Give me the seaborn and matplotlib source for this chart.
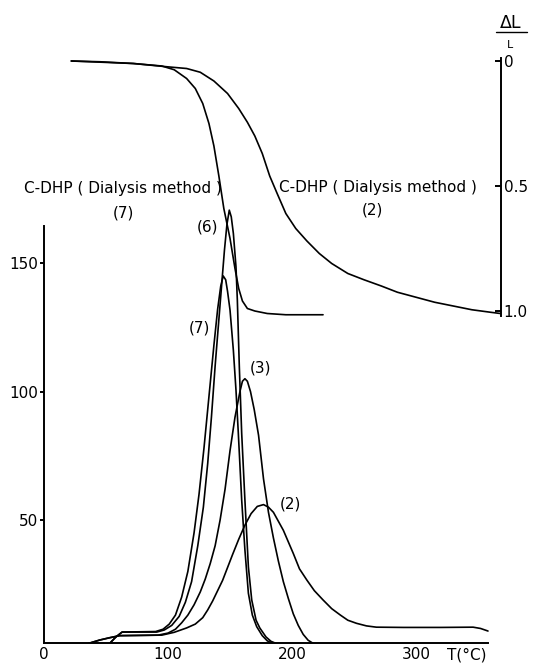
import matplotlib
matplotlib.use("Agg")
import matplotlib.pyplot as plt
import seaborn as sns
import pandas as pd
from matplotlib.lines import Line2D

# ---------------- data ----------------
# DSC traces, left axis (temperature in degC)
dsc6_t = [53, 58, 63, 91, 97, 103, 109, 114, 119, 124, 128.5, 132, 135, 138, 141, 143.5, 145.5, 147.5,
          149.4, 151, 152.7, 154.8, 155.9, 157.5, 159.4, 162, 164.8, 167.5, 171, 174, 179, 183, 187]
dsc6_v = [2, 4.5, 6.4, 6.4, 7.2, 9, 12.5, 18, 26, 40, 55, 72, 90, 110, 128, 143, 155, 165,
          170.6, 168, 161.5, 148.6, 135.6, 109.6, 83.8, 57.8, 31.8, 18.9, 11, 8, 4.5, 2.8, 2]

dsc7_t = [53, 58, 63, 90, 96, 101, 106, 111, 116, 121, 125, 129, 133, 137, 140, 142.5, 144.5, 146.5,
          148, 150, 152.7, 154.8, 156.7, 159.4, 162, 164.8, 168, 171.5, 176, 180, 184]
dsc7_v = [2, 4.5, 6.4, 6.6, 7.5, 9.5, 13, 20, 30, 45, 60, 78, 98, 118, 132, 141, 145, 143.5,
          139, 131.7, 116, 100.6, 83.7, 57.8, 38.4, 21.5, 13, 8.5, 5, 3, 2]

dsc3_t = [36, 45, 53, 61, 92, 100, 106, 111, 116, 121, 126, 130, 134, 138, 142, 146, 150, 154, 158,
          160, 162, 164, 166.5, 169.5, 173, 177, 181, 185, 189, 193, 197, 201, 205, 209, 213, 217]
dsc3_v = [2, 3.3, 4.2, 5, 5.2, 6, 7.5, 10, 13, 17, 22, 27, 33, 40, 50, 62, 77, 90, 100,
          104, 105, 104, 100, 93, 83, 66, 53, 43, 34, 26, 19.5, 13.5, 9, 5.5, 3.2, 2]

dsc2_t = [36, 45, 53, 61, 95, 105, 115, 122, 128, 132, 136, 140, 144, 148, 152, 157, 162, 167, 172,
          177, 181, 185, 189, 193, 197, 201, 206, 212, 218, 225, 232, 239, 245, 252, 260, 268, 290,
          320, 346, 352, 358]
dsc2_v = [2, 3.3, 4.2, 5, 5.2, 6.3, 8, 9.5, 12, 15, 18.5, 22.5, 26.5, 31.5, 36.5, 42.5, 48, 52.5, 55.3,
          56, 55, 53, 49.5, 46, 41.5, 37, 31, 26.6, 22.5, 18.9, 15.5, 13, 11, 9.8, 8.8, 8.3, 8.2,
          8.2, 8.3, 7.8, 6.8]

# TMA traces, right axis (dL/L)
tma7_t = [22, 45, 72, 95, 105, 115, 122, 128, 133, 137, 141, 145, 150, 154, 157, 160, 164, 170,
          180, 195, 225]
tma7_v = [0, 0.003, 0.01, 0.02, 0.035, 0.07, 0.11, 0.17, 0.25, 0.34, 0.46, 0.59, 0.71, 0.83, 0.91,
          0.96, 0.99, 1.0, 1.01, 1.015, 1.015]

tma2_t = [22, 72, 99, 115, 126, 137, 148, 157, 164, 170, 176, 182, 188, 195, 203, 212, 222, 232,
          245, 258, 272, 285, 300, 315, 330, 345, 360, 368]
tma2_v = [0, 0.01, 0.023, 0.03, 0.045, 0.08, 0.13, 0.19, 0.245, 0.3, 0.37, 0.46, 0.53, 0.61, 0.67,
          0.72, 0.77, 0.81, 0.85, 0.875, 0.9, 0.925, 0.945, 0.965, 0.98, 0.995, 1.005, 1.01]

x_ticks = [0, 100, 200, 300]
x_labels = ["0", "100", "200", "300"]
y_ticks = [50, 100, 150]
y_labels = ["50", "100", "150"]
dl_ticks = [0, 0.5, 1.0]
dl_labels = ["0", "0.5", "1.0"]

peak_labels = ["(6)", "(7)", "(3)", "(2)"]
peak_label_pos = [(131.5, 164), (125, 124.7), (174.2, 109), (198.4, 56.2)]
header = "C-DHP ( Dialysis method )"

# ---------------- plotting ----------------
sns.set_style("white")
plt.rcParams["font.family"] = ["DejaVu Sans"]
plt.rcParams["text.color"] = "black"
plt.rcParams["axes.labelcolor"] = "black"
plt.rcParams["xtick.color"] = "black"
plt.rcParams["ytick.color"] = "black"

fig = plt.figure(figsize=(5.35, 6.65), dpi=100)
ax = fig.add_axes([44 / 535, 22 / 665, 457 / 535, 623 / 665])
tw = ax.twinx()

lw = 1.2
for t, v in [(dsc6_t, dsc6_v), (dsc7_t, dsc7_v), (dsc3_t, dsc3_v), (dsc2_t, dsc2_v)]:
    df = pd.DataFrame({"T": t, "v": v})
    sns.lineplot(data=df, x="T", y="v", ax=ax, color="black", lw=lw, sort=False, estimator=None)

for t, v in [(tma7_t, tma7_v), (tma2_t, tma2_v)]:
    df = pd.DataFrame({"T": t, "d": v})
    sns.lineplot(data=df, x="T", y="d", ax=tw, color="black", lw=lw, sort=False, estimator=None)

ax.set_xlim(0, 368.5)
ax.set_ylim(2.14, 244.6)
tw.set_ylim(2.328, -0.164)

for a in (ax, tw):
    a.set_xlabel("")
    a.set_ylabel("")
    a.grid(False)
    a.patch.set_visible(False)

ax.spines["top"].set_visible(False)
ax.spines["right"].set_visible(False)
ax.spines["left"].set_bounds(2.14, 164.4)
ax.spines["bottom"].set_bounds(0, 358)
for s in ("left", "bottom"):
    ax.spines[s].set_linewidth(1.4)
    ax.spines[s].set_color("black")

tw.spines["top"].set_visible(False)
tw.spines["left"].set_visible(False)
tw.spines["bottom"].set_visible(False)
tw.spines["right"].set_bounds(-0.012, 1.02)
tw.spines["right"].set_linewidth(1.4)
tw.spines["right"].set_color("black")

fs = 11
ax.set_xticks(x_ticks, x_labels)
ax.set_yticks(y_ticks, y_labels)
ax.tick_params(axis="x", direction="in", length=2.5, width=1.2, pad=3, labelsize=fs,
               colors="black", labelcolor="black")
ax.tick_params(axis="y", direction="out", length=3, width=1.4, pad=1, labelsize=fs,
               colors="black", labelcolor="black")
tw.set_yticks(dl_ticks, dl_labels)
tw.tick_params(axis="y", direction="in", length=4, width=1.4, pad=2, labelsize=fs,
               colors="black", labelcolor="black")

# x unit label
ax.annotate("T(\u00b0C)", xy=(341, 0), xycoords=("data", "axes fraction"), xytext=(0, -3),
            textcoords="offset points", ha="center", va="top", fontsize=fs, color="black")

# peak labels
for lab, (x, y) in zip(peak_labels, peak_label_pos):
    ax.text(x, y, lab, ha="center", va="center", fontsize=fs, color="black")

# headers
ax.text(64, 179.2, header, ha="center", va="center", fontsize=fs, color="black")
ax.text(63.7, 169.5, "(7)", ha="center", va="center", fontsize=fs, color="black")
ax.text(269, 179.6, header, ha="center", va="center", fontsize=fs, color="black")
ax.text(264.5, 170.6, "(2)", ha="center", va="center", fontsize=fs, color="black")

# dL/L axis title
fig.text(511 / 535, 1 - 23 / 665, "\u0394L", ha="center", va="center", fontsize=12.5, color="black")
fig.add_artist(Line2D([496 / 535, 527 / 535], [1 - 32 / 665, 1 - 32 / 665], color="black", lw=1.0))
fig.text(510 / 535, 1 - 45 / 665, "L", ha="center", va="center", fontsize=8, color="black")

fig.savefig("out.png", dpi=100)
